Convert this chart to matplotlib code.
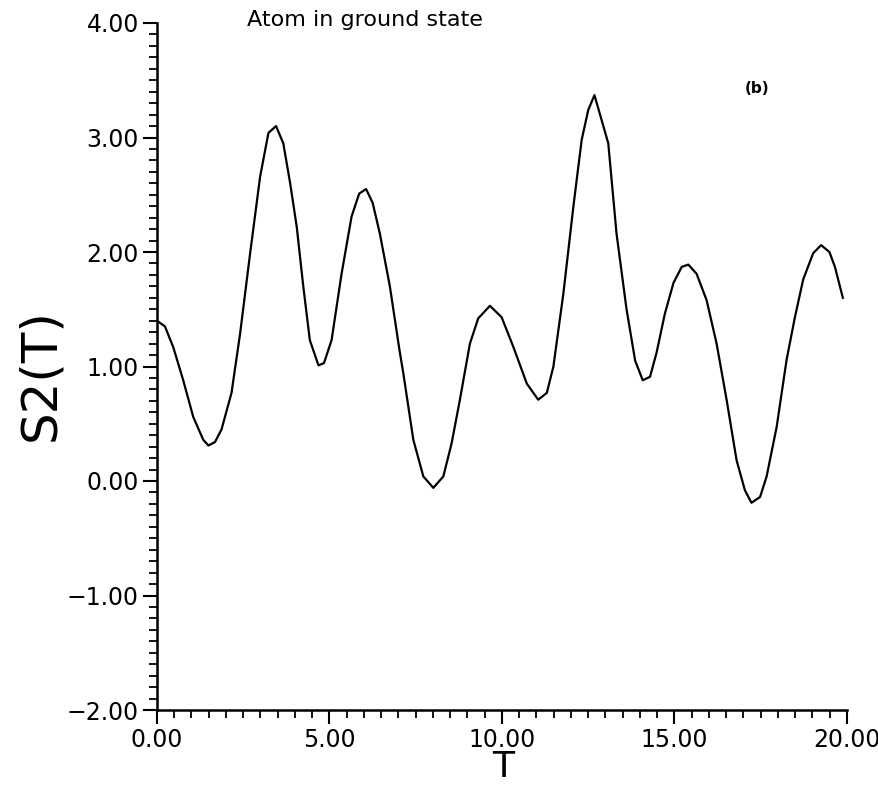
import matplotlib
matplotlib.use("Agg")
import matplotlib.pyplot as plt
from matplotlib.ticker import MultipleLocator, FuncFormatter

# values
T = [0.0, 0.23, 0.47, 0.76, 1.05, 1.34, 1.49, 1.68, 1.87, 2.16, 2.41, 2.70,
     2.99, 3.23, 3.45, 3.66, 3.86, 4.05, 4.24, 4.43, 4.68, 4.84, 5.06, 5.35,
     5.64, 5.86, 6.06, 6.25, 6.46, 6.75, 7.03, 7.14, 7.43, 7.72, 8.01, 8.30,
     8.54, 8.78, 9.07, 9.31, 9.65, 9.99, 10.33, 10.72, 11.05, 11.30, 11.49,
     11.78, 12.07, 12.31, 12.50, 12.68, 13.08, 13.32, 13.61, 13.86, 14.08,
     14.29, 14.48, 14.72, 14.97, 15.21, 15.40, 15.64, 15.93, 16.22, 16.51,
     16.80, 17.04, 17.23, 17.48, 17.67, 17.96, 18.25, 18.49, 18.73, 19.02,
     19.25, 19.49, 19.65, 19.88]
S2 = [1.40, 1.35, 1.17, 0.88, 0.56, 0.36, 0.31, 0.34, 0.45, 0.77, 1.29, 1.99,
      2.66, 3.04, 3.10, 2.95, 2.60, 2.22, 1.70, 1.23, 1.01, 1.03, 1.23, 1.81,
      2.31, 2.51, 2.55, 2.43, 2.16, 1.70, 1.14, 0.94, 0.36, 0.04, -0.06, 0.04,
      0.33, 0.71, 1.20, 1.42, 1.53, 1.43, 1.17, 0.85, 0.71, 0.77, 1.00,
      1.64, 2.40, 2.98, 3.24, 3.37, 2.95, 2.16, 1.50, 1.05, 0.88,
      0.91, 1.12, 1.46, 1.73, 1.87, 1.89, 1.81, 1.58, 1.20, 0.71,
      0.18, -0.08, -0.19, -0.14, 0.04, 0.47, 1.06, 1.43, 1.76, 1.99,
      2.06, 2.00, 1.87, 1.60]

def fmt(v, pos):
    return ('%.2f' % v).replace('-', '\u2212')

fig = plt.figure(figsize=(8.79, 7.86), dpi=100)
ax = fig.add_axes([157/879, 1-710/786, 690/879, 687/786])

ax.plot(T, S2, color='black', lw=1.6)

ax.set_xlim(0, 20)
ax.set_ylim(-2, 4)
ax.xaxis.set_major_locator(MultipleLocator(5))
ax.xaxis.set_minor_locator(MultipleLocator(0.5))
ax.yaxis.set_major_locator(MultipleLocator(1))
ax.yaxis.set_minor_locator(MultipleLocator(0.1))
ax.xaxis.set_major_formatter(FuncFormatter(fmt))
ax.yaxis.set_major_formatter(FuncFormatter(fmt))

ax.spines['top'].set_visible(False)
ax.spines['right'].set_visible(False)
ax.spines['left'].set_linewidth(1.8)
ax.spines['bottom'].set_linewidth(1.8)
ax.tick_params(which='major', direction='out', length=10, width=1.5,
               labelsize=17, pad=3)
ax.tick_params(which='minor', direction='out', length=6, width=1.3)

fig.text(0.415, 0.975, 'Atom in ground state', fontsize=16,
         ha='center', va='center')
fig.text(0.861, 0.888, '(b)', fontsize=11, fontweight='bold',
         ha='center', va='center')
fig.text(0.0455, 0.523, 'S2(T)', fontsize=36, rotation=90,
         ha='center', va='center')
fig.text(0.572, 0.003, 'T', fontsize=26, ha='center', va='bottom')

plt.savefig('out.png', dpi=100)
